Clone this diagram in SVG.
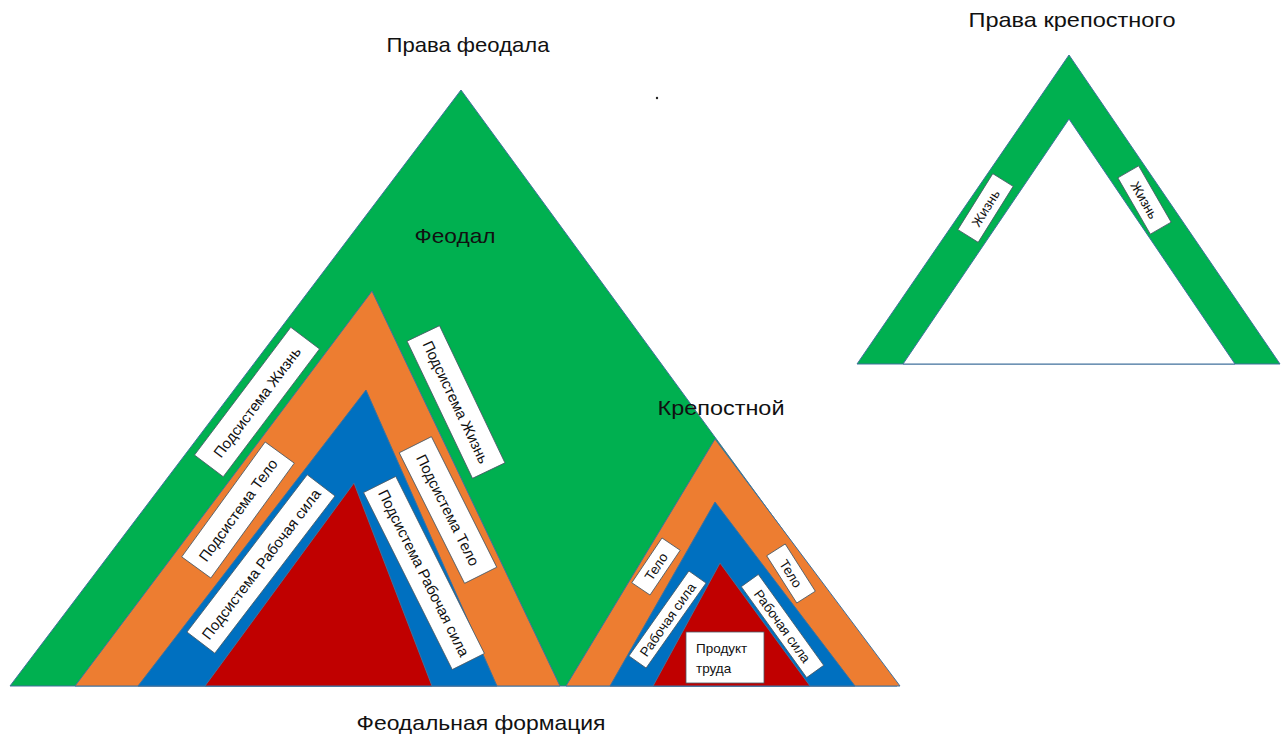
<svg xmlns="http://www.w3.org/2000/svg" width="1288" height="740" viewBox="0 0 1288 740">
<style>
.tri{stroke:#41719C;stroke-width:1;stroke-linejoin:miter}
.g{fill:#00B050}.o{fill:#ED7D31}.b{fill:#0070C0}.r{fill:#C00000}.w{fill:#FFFFFF}
.box{fill:#FFFFFF;stroke:#4a5a66;stroke-width:0.8}
.h{font-family:"Liberation Sans",Arial,sans-serif;font-size:21px;fill:#111;text-anchor:middle}
.l{font-family:"Liberation Sans",Arial,sans-serif;font-size:15px;fill:#111;text-anchor:middle}
.s{font-family:"Liberation Sans",Arial,sans-serif;font-size:13.5px;fill:#111;text-anchor:middle}
</style>
<rect width="1288" height="740" fill="#FFFFFF"/>

<g id="feudal-triangle">
<polygon class="tri g" points="461,90 10,686 897,686"/>
<polygon class="tri o" points="372,291 75,686 560,686"/>
<polygon class="tri b" points="366,390 138,686 497,686"/>
<polygon class="tri r" points="354,483 205,686 432,686"/>
</g>
<g id="serf-triangle">
<polygon class="tri o" points="715,439 566,686 900,686"/>
<polygon class="tri b" points="715,502 610,686 855,686"/>
<polygon class="tri r" points="720,563 653,686 810,686"/>
</g>
<g id="serf-rights-triangle">
<polygon class="tri g" points="1069,55 857,364 1280,364"/>
<polygon class="tri w" points="1069,119 903,364 1235,364"/>
</g>

<g id="titles">
<text class="h" x="468" y="52" textLength="163" lengthAdjust="spacingAndGlyphs">Права феодала</text>
<text class="h" x="1072" y="27" textLength="207" lengthAdjust="spacingAndGlyphs">Права крепостного</text>
<text class="h" x="455" y="243" textLength="81" lengthAdjust="spacingAndGlyphs">Феодал</text>
<text class="h" x="721" y="415" textLength="127" lengthAdjust="spacingAndGlyphs">Крепостной</text>
<text class="h" x="481" y="730" textLength="249" lengthAdjust="spacingAndGlyphs">Феодальная формация</text>
<circle cx="657" cy="98" r="1.2" fill="#222"/>
</g>

<g id="label-life-left" transform="translate(257,402) rotate(-53)">
<rect class="box" x="-80" y="-18" width="160" height="36"/>
<text class="l" x="0" y="5.5">Подсистема Жизнь</text>
</g>
<g id="label-life-right" transform="translate(456,402) rotate(64.5)">
<rect class="box" x="-76" y="-18" width="152" height="36"/>
<text class="l" x="0" y="5.5">Подсистема Жизнь</text>
</g>
<g id="label-body-left" transform="translate(238,510) rotate(-54)">
<rect class="box" x="-71" y="-18" width="142" height="36"/>
<text class="l" x="0" y="5.5">Подсистема Тело</text>
</g>
<g id="label-body-right" transform="translate(448,510) rotate(63.4)">
<rect class="box" x="-73" y="-18" width="146" height="36"/>
<text class="l" x="0" y="5.5">Подсистема Тело</text>
</g>
<g id="label-labor-left" transform="translate(261,564) rotate(-52.6)">
<rect class="box" x="-99" y="-17.5" width="198" height="35"/>
<text class="l" x="0" y="5.5">Подсистема Рабочая сила</text>
</g>
<g id="label-labor-right" transform="translate(424,573) rotate(63.4)">
<rect class="box" x="-99" y="-18" width="198" height="36"/>
<text class="l" x="0" y="5.5">Подсистема Рабочая сила</text>
</g>

<g id="label-serf-body-left" transform="translate(656,566.5) rotate(-56)">
<rect class="box" x="-27" y="-11" width="54" height="22"/>
<text class="s" x="0" y="5">Тело</text>
</g>
<g id="label-serf-body-right" transform="translate(791,573.5) rotate(57.5)">
<rect class="box" x="-28" y="-11" width="56" height="22"/>
<text class="s" x="0" y="5">Тело</text>
</g>
<g id="label-serf-labor-left" transform="translate(667.5,619.5) rotate(-54.8)">
<rect class="box" x="-52" y="-10.5" width="104" height="21"/>
<text class="s" x="0" y="5">Рабочая сила</text>
</g>
<g id="label-serf-labor-right" transform="translate(782.5,626) rotate(54.3)">
<rect class="box" x="-56" y="-10.5" width="112" height="21"/>
<text class="s" x="0" y="5">Рабочая сила</text>
</g>
<g id="label-product">
<rect class="box" x="686" y="632" width="78" height="51"/>
<text class="s" x="696" y="653" style="text-anchor:start">Продукт</text>
<text class="s" x="696" y="673" style="text-anchor:start">труда</text>
</g>

<g id="label-rights-life-left" transform="translate(985.5,208) rotate(-58)">
<rect class="box" x="-33" y="-12" width="66" height="24"/>
<text class="s" x="0" y="5">Жизнь</text>
</g>
<g id="label-rights-life-right" transform="translate(1144.5,200) rotate(60)">
<rect class="box" x="-32.5" y="-12" width="65" height="24"/>
<text class="s" x="0" y="5">Жизнь</text>
</g>

<g id="connectors"></g>
</svg>
